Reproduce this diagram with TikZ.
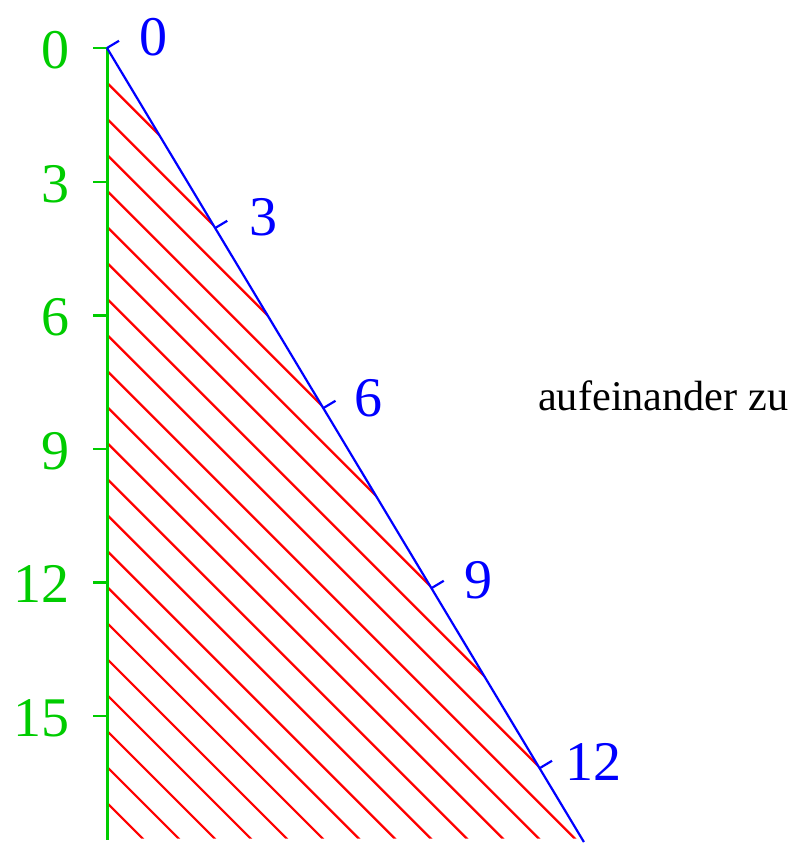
\documentclass[tikz,border=0pt]{standalone}
\usepackage{fontspec}
\setmainfont{Liberation Serif}
\definecolor{axgreen}{RGB}{0,204,0}
\begin{document}
\begin{tikzpicture}[x=1pt,y=-1pt,
  hatch/.style={red,line width=2.2pt},
  gaxis/.style={axgreen,line width=2.4pt},
  baxis/.style={blue,line width=2.2pt},
  glabel/.style={axgreen,inner sep=0pt,anchor=east,font=\fontsize{56}{60}\selectfont},
  blabel/.style={blue,inner sep=0pt,anchor=west,font=\fontsize{56}{60}\selectfont},
  note/.style={black,inner sep=0pt,anchor=base west,font=\fontsize{42.3}{44}\selectfont}]
\useasboundingbox (0,0) rectangle (798,843);
% hatching
\begin{scope}
\clip (107.5,48) -- (582.4,838.5) -- (107.5,838.5) -- cycle;
\foreach \k in {1,...,22}
  \draw[hatch] (107.5,{47.3+36*\k}) -- ++(800,800);
\end{scope}
% green axis
\coordinate (g0) at (107.5,48.3);
\coordinate (gend) at (107.5,840);
\draw[gaxis] (g0) -- (gend);
\foreach \v/\lab in {0/0,1/3,2/6,3/9,4/12,5/15}{
  \coordinate (gt\v) at (107.5,{48.3+133.5*\v});
  \draw[gaxis] (gt\v) -- ++(-15,0);
  \node[glabel] (gl\v) at (70,{50.3+133.5*\v}) {\lab};
}
% blue axis
\coordinate (b0) at (107,48);
\coordinate (bend) at (583.9,842);
\draw[baxis] (b0) -- (bend);
\foreach \v/\lab/\dx/\dy in {0/0/32/-11,1/3/34/-11,2/6/31/-10,3/9/33/-8,4/12/25/-6}{
  \coordinate (bt\v) at ({107+108.25*\v},{48+180*\v});
  \draw[baxis] (bt\v) -- ++(12,-7.2);
  \node[blabel] (bl\v) at ({107+108.25*\v+\dx},{48+180*\v+\dy}) {\lab};
}
\node[note] (txt) at (538,410) {aufeinander zu};
\end{tikzpicture}
\end{document}
